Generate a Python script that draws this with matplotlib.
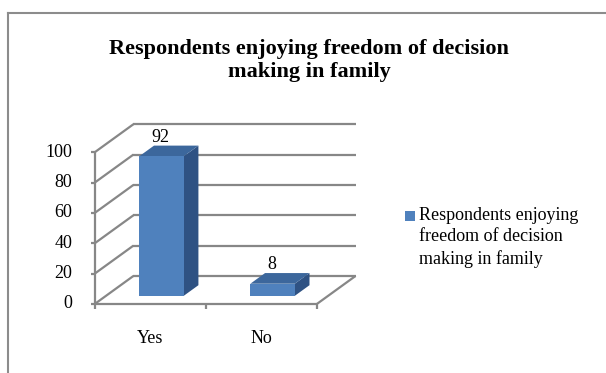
import matplotlib.pyplot as plt
from matplotlib.patches import Polygon, Rectangle
from matplotlib.lines import Line2D

plt.rcParams['font.family'] = ['Liberation Serif', 'DejaVu Serif']

# data
categories = ['Yes', 'No']
values = [92, 8]
series_name = 'Respondents enjoying\nfreedom of decision\nmaking in family'
yticks = [0, 20, 40, 60, 80, 100]
title = 'Respondents enjoying freedom of decision\nmaking in family'

# look of the pseudo-3D box
front_col = '#4f81bd'
top_col = '#3c679c'
side_col = '#2f5283'
grid_col = '#878787'
dx, dy = 0.349, 18.5        # depth offset of the back wall (category units, value units)
z0, z1 = 0.29, 0.67         # bar depth span as fraction of floor depth
half_w = 0.2

W, H = 606, 373
fig = plt.figure(figsize=(W / 100, H / 100), dpi=100)
fig.patch.set_facecolor('white')

# chart frame (runs off the right and bottom edges)
fig.add_artist(Line2D([7.5 / W, 7.5 / W], [0, 1 - 12.5 / H], transform=fig.transFigure,
                      color='#8c8c8c', lw=1.5))
fig.add_artist(Line2D([7.5 / W, 1], [1 - 12.5 / H, 1 - 12.5 / H], transform=fig.transFigure,
                      color='#8c8c8c', lw=1.5))

fig.text(309 / W, 1 - 60.5 / H, title, ha='center', va='center', fontsize=16,
         fontweight='bold', linespacing=1.2)

n = len(categories)
ax = fig.add_axes([94.7 / W, (H - 304) / H, 260.9 / W, 180.7 / H])
ax.set_xlim(0, n + dx)
ax.set_ylim(0, 119.1)
ax.axis('off')

gkw = dict(color=grid_col, lw=1.6, clip_on=False, solid_capstyle='butt')
top = max(yticks)
# back wall gridlines and left wall diagonals
for v in yticks:
    ax.plot([dx, n + dx], [v + dy, v + dy], **gkw)
    ax.plot([0, dx], [v, v + dy], **gkw)
    ax.plot([-0.035, 0], [v, v], **gkw)
    ax.annotate(str(v), (0, v), xytext=(-16, 0), textcoords='offset points',
                ha='right', va='center', fontsize=13)
# front axis line, floor edges
ax.plot([0, 0], [0, top], **gkw)
ax.plot([0, n], [0, 0], **gkw)
ax.plot([n, n + dx], [0, dy], **gkw)
for i in range(n + 1):
    ax.plot([i, i], [0, -3.2], **gkw)

# bars
for i, (cat, v) in enumerate(zip(categories, values)):
    c = i + 0.5
    xl0, xr0 = c - half_w + z0 * dx, c + half_w + z0 * dx
    xl1, xr1 = c - half_w + z1 * dx, c + half_w + z1 * dx
    yb0, yb1 = z0 * dy, z1 * dy
    front = [(xl0, yb0), (xr0, yb0), (xr0, v + yb0), (xl0, v + yb0)]
    topf = [(xl0, v + yb0), (xr0, v + yb0), (xr1, v + yb1), (xl1, v + yb1)]
    side = [(xr0, yb0), (xr1, yb1), (xr1, v + yb1), (xr0, v + yb0)]
    for pts, col in ((side, side_col), (topf, top_col), (front, front_col)):
        ax.add_patch(Polygon(pts, closed=True, facecolor=col, edgecolor='none',
                             clip_on=False, zorder=3))
    ax.text(c + 0.095, v + dy - 0.5, str(v), ha='center', va='center', fontsize=13)
    ax.annotate(cat, (c, 0), xytext=(0, -24.5), textcoords='offset points',
                ha='center', va='center', fontsize=13)

# legend: swatch next to the first line of the series name
fig.add_artist(Rectangle((405 / W, 1 - 221 / H), 10 / W, 10 / H,
                         transform=fig.transFigure, facecolor=front_col, edgecolor='none'))
fig.text(419 / W, 1 - 206.5 / H, series_name, ha='left', va='top', fontsize=13,
         linespacing=1.35)

fig.savefig('out.png', dpi=100)
